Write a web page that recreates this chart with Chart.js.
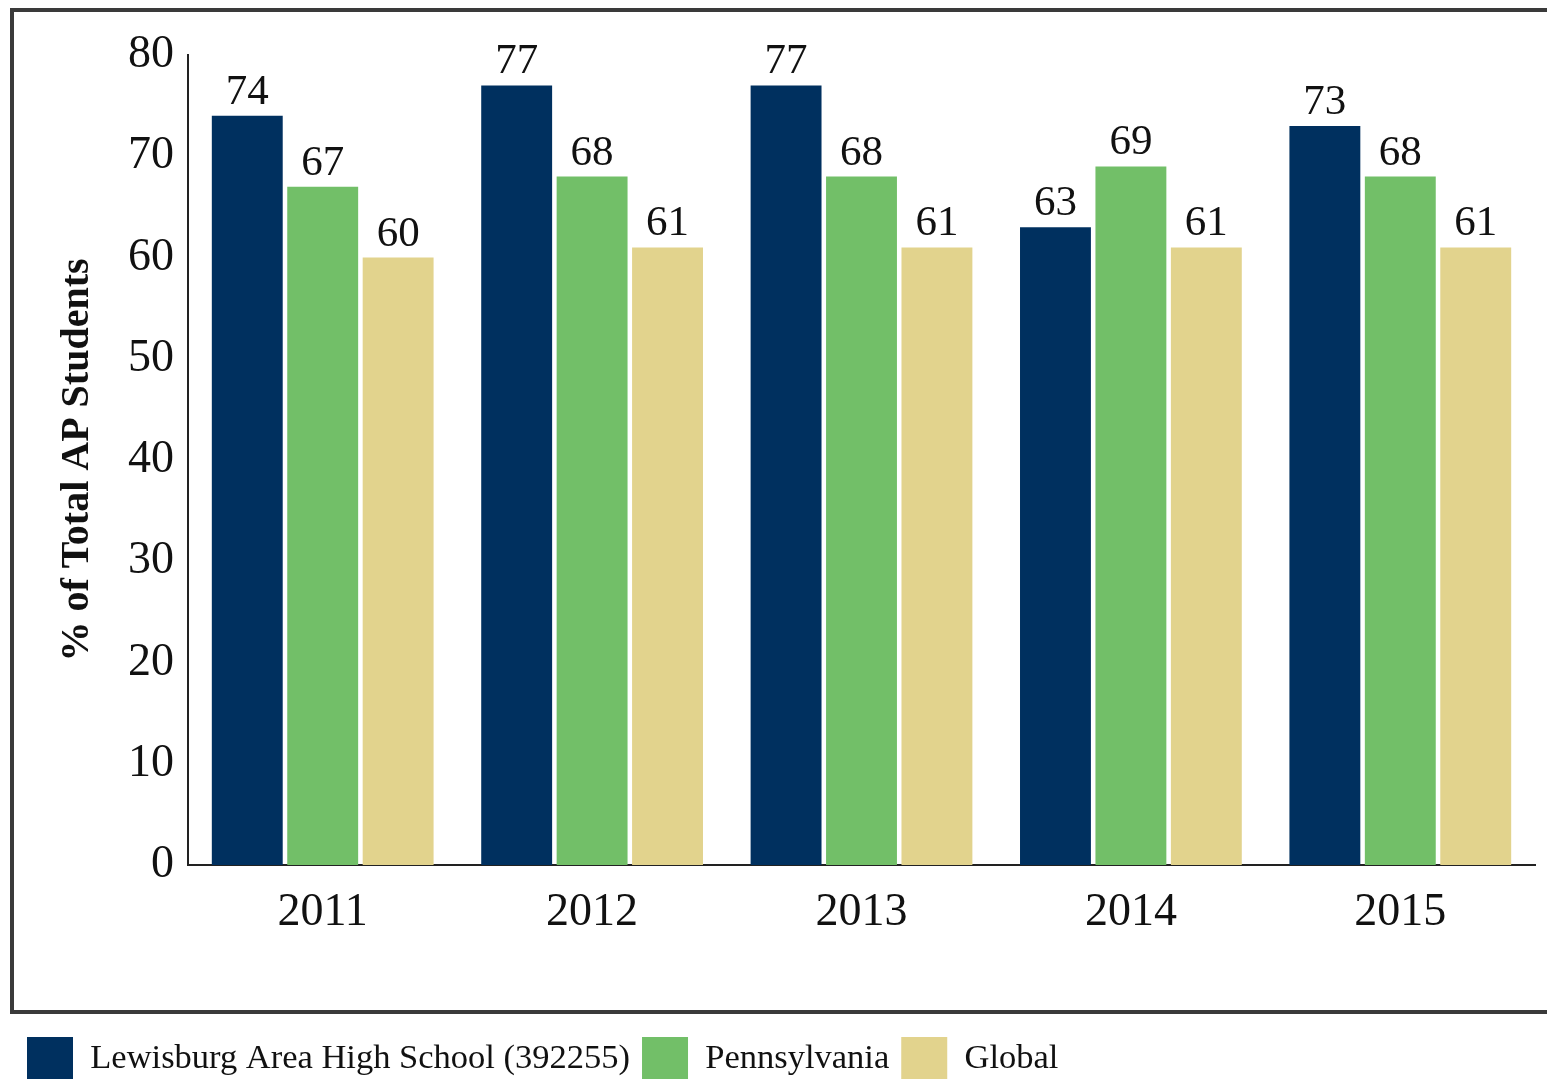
<!DOCTYPE html>
<html lang="en">
  <head>
    <meta charset="UTF-8" />
    <title>AP Students</title>
    <script src="https://cdn.jsdelivr.net/npm/chart.js"></script>
    <style>
      html, body { margin: 0; padding: 0; background: #fff; overflow: hidden; }
      #frame {
        position: absolute; left: 10px; top: 8px;
        width: 1600px; height: 998px;
        border: 4px solid #3a3a3a;
      }
      #wrap { position: absolute; left: 0; top: 0; width: 1547px; height: 1091px; }
    </style>
  </head>
  <body>
    <div id="frame"></div>
    <div id="wrap"><canvas id="myChart"></canvas></div>

    <script>
      const years = ["2011", "2012", "2013", "2014", "2015"];
      const lewisburg = [74, 77, 77, 63, 73];
      const pennsylvania = [67, 68, 68, 69, 68];
      const global = [60, 61, 61, 61, 61];
      const yTicks = [0, 10, 20, 30, 40, 50, 60, 70, 80];

      const serif = "'Liberation Serif', 'DejaVu Serif', serif";

      // value labels above each bar
      const valueLabels = {
        id: "valueLabels",
        afterDatasetsDraw(chart) {
          const ctx = chart.ctx;
          ctx.save();
          ctx.font = "43px " + serif;
          ctx.fillStyle = "#111";
          ctx.textAlign = "center";
          ctx.textBaseline = "alphabetic";
          chart.data.datasets.forEach((ds, i) => {
            chart.getDatasetMeta(i).data.forEach((bar, j) => {
              ctx.fillText(ds.data[j], bar.x, bar.y - 12);
            });
          });
          ctx.restore();
        },
      };

      const config = {
        type: "bar",
        data: {
          labels: years,
          datasets: [
            { label: "Lewisburg Area High School (392255)", data: lewisburg, backgroundColor: "#00305f" },
            { label: "Pennsylvania", data: pennsylvania, backgroundColor: "#72bf68" },
            { label: "Global", data: global, backgroundColor: "#e2d38d" },
          ],
        },
        options: {
          responsive: true,
          maintainAspectRatio: false,
          animation: false,
          categoryPercentage: 0.84,
          barPercentage: 0.94,
          layout: { padding: { left: 15, right: 12, top: 55, bottom: 0 } },
          plugins: {
            tooltip: { enabled: false },
            legend: {
              position: "bottom",
              align: "start",
              labels: {
                boxWidth: 46,
                boxHeight: 44,
                padding: 12,
                color: "#111",
                font: { family: serif, size: 34.5 },
              },
            },
          },
          scales: {
            x: {
              grid: { display: false, drawTicks: false },
              border: { display: true, color: "#222", width: 2 },
              ticks: { color: "#111", padding: 20, font: { family: serif, size: 46 } },
              afterFit(scale) {
                scale.height = 160;
              },
            },
            y: {
              min: 0,
              max: 80,
              afterBuildTicks(scale) {
                scale.ticks = yTicks.map((v) => ({ value: v }));
              },
              grid: { display: false, drawTicks: false },
              border: { display: true, color: "#222", width: 2 },
              ticks: { color: "#111", padding: 14, font: { family: serif, size: 46 } },
              title: {
                display: true,
                text: "% of Total AP Students",
                color: "#111",
                padding: { top: 39, bottom: 12 },
                font: { family: serif, size: 40, weight: "bold" },
              },
            },
          },
        },
        plugins: [valueLabels],
      };

      new Chart(document.getElementById("myChart"), config);
    </script>
  </body>
</html>
